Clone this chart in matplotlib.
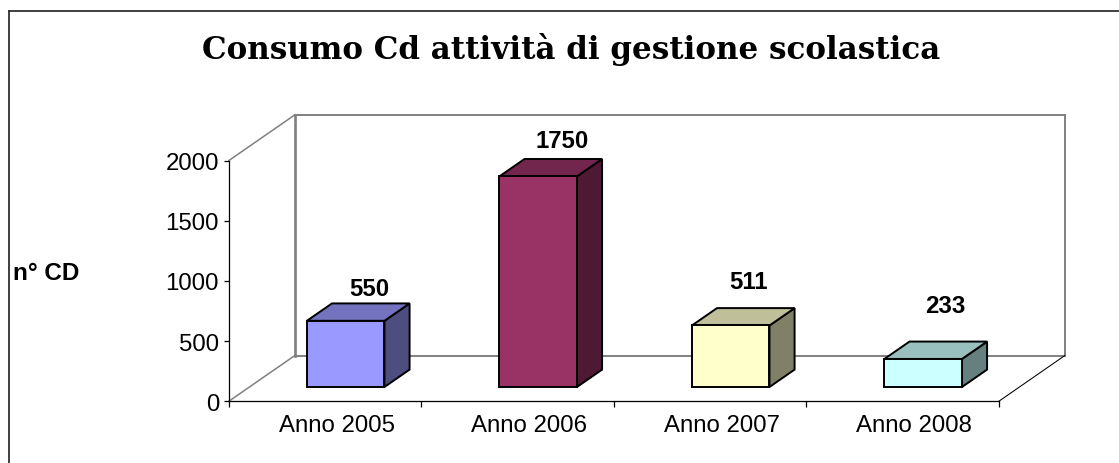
import matplotlib
matplotlib.use('Agg')
import matplotlib.pyplot as plt
from matplotlib.lines import Line2D
from matplotlib.patches import Polygon

categories = ['Anno 2005', 'Anno 2006', 'Anno 2007', 'Anno 2008']
values = [550, 1750, 511, 233]
yticks = [0, 500, 1000, 1500, 2000]
title = 'Consumo Cd attività di gestione scolastica'
ylabel = 'n° CD'

front_colors = ['#9999FF', '#993366', '#FFFFCC', '#CCFFFF']
top_colors = ['#7373BF', '#73264D', '#BFBF99', '#99BFBF']
side_colors = ['#4D4D80', '#4D1933', '#808066', '#668080']
label_offsets = [(44, 47), (45, 50), (38, 58), (43, 68)]

W, H = 1119, 464
# oblique projection of the chart floor, in data units
DEPTH_X = 66 / 192.5
DEPTH_Y = 380
BAR_W = 0.403
BAR_D0 = 0.313
BAR_D1 = 0.693
LABEL_SHIFT = 0.06

plt.rcParams['font.family'] = ['Liberation Sans', 'DejaVu Sans']

fig = plt.figure(figsize=(W / 100, H / 100), dpi=100)
ax = fig.add_axes([228.8 / W, (H - 402.3) / H, 770 / W, 240.7 / H])
ax.set_xlim(0, len(categories))
ax.set_ylim(0, 2000)
ax.patch.set_visible(False)


def project(x, y, depth):
    return (x + depth * DEPTH_X, y + depth * DEPTH_Y)


def wall_line(p0, p1, color='#808080', lw=1.4, z=1):
    ax.add_line(Line2D([p0[0], p1[0]], [p0[1], p1[1]], color=color, lw=lw,
                       clip_on=False, zorder=z, solid_capstyle='projecting'))


n = len(categories)
wall_line(project(0, 0, 1), project(0, 2000, 1), lw=1.9)
wall_line(project(0, 2000, 1), project(n, 2000, 1))
wall_line(project(n, 0, 1), project(n, 2000, 1))
wall_line(project(0, 0, 1), project(n, 0, 1))
wall_line(project(0, 0, 0), project(0, 0, 1), lw=1.1)
wall_line(project(0, 2000, 0), project(0, 2000, 1), lw=1.1)
wall_line(project(n, 0, 0), project(n, 0, 1), color='#000000', lw=0.75)

for i, v in enumerate(values):
    x0 = i + 0.5 - BAR_W / 2
    x1 = i + 0.5 + BAR_W / 2
    front = [project(x0, 0, BAR_D0), project(x1, 0, BAR_D0),
             project(x1, v, BAR_D0), project(x0, v, BAR_D0)]
    side = [project(x1, 0, BAR_D0), project(x1, 0, BAR_D1),
            project(x1, v, BAR_D1), project(x1, v, BAR_D0)]
    top = [project(x0, v, BAR_D0), project(x1, v, BAR_D0),
           project(x1, v, BAR_D1), project(x0, v, BAR_D1)]
    for pts, col in [(side, side_colors[i]), (top, top_colors[i]), (front, front_colors[i])]:
        ax.add_patch(Polygon(pts, closed=True, facecolor=col, edgecolor='black',
                             lw=1.4, clip_on=False, zorder=3, joinstyle='miter'))
    ax.annotate(str(v), (i + 0.5, v), xytext=label_offsets[i], textcoords='offset pixels',
                ha='center', va='center', fontsize=17.3, fontweight='bold',
                color='black', zorder=5, annotation_clip=False)

for s in ['top', 'right']:
    ax.spines[s].set_visible(False)
for s in ['left', 'bottom']:
    ax.spines[s].set_linewidth(0.9)
    ax.spines[s].set_zorder(2)

ax.set_yticks(yticks)
ax.tick_params(axis='y', length=3.5, width=0.9, pad=3.5, labelsize=17.3)
ax.set_xticks(range(n + 1))
ax.set_xticklabels([])
ax.set_xticks([i + 0.5 + LABEL_SHIFT for i in range(n)], minor=True)
ax.set_xticklabels(categories, minor=True)
ax.tick_params(axis='x', which='major', length=4, width=0.9)
ax.tick_params(axis='x', which='minor', length=0, pad=9, labelsize=17.3)

# title and axis title sit in figure pixels, as does the outer frame
fig.text(571 / W, 1 - 50 / H, title, ha='center', va='center', fontsize=22.3,
         fontweight='bold', family='DejaVu Serif')
fig.text(13 / W, 1 - 273 / H, ylabel, ha='left', va='center', fontsize=17.5,
         fontweight='bold')
fig.add_artist(Line2D([9 / W, 9 / W], [0, 1 - 12 / H], color='#303030', lw=1.3))
fig.add_artist(Line2D([9 / W, 1], [1 - 12 / H, 1 - 12 / H], color='#303030', lw=1.3))

fig.savefig('out.png', dpi=100)
